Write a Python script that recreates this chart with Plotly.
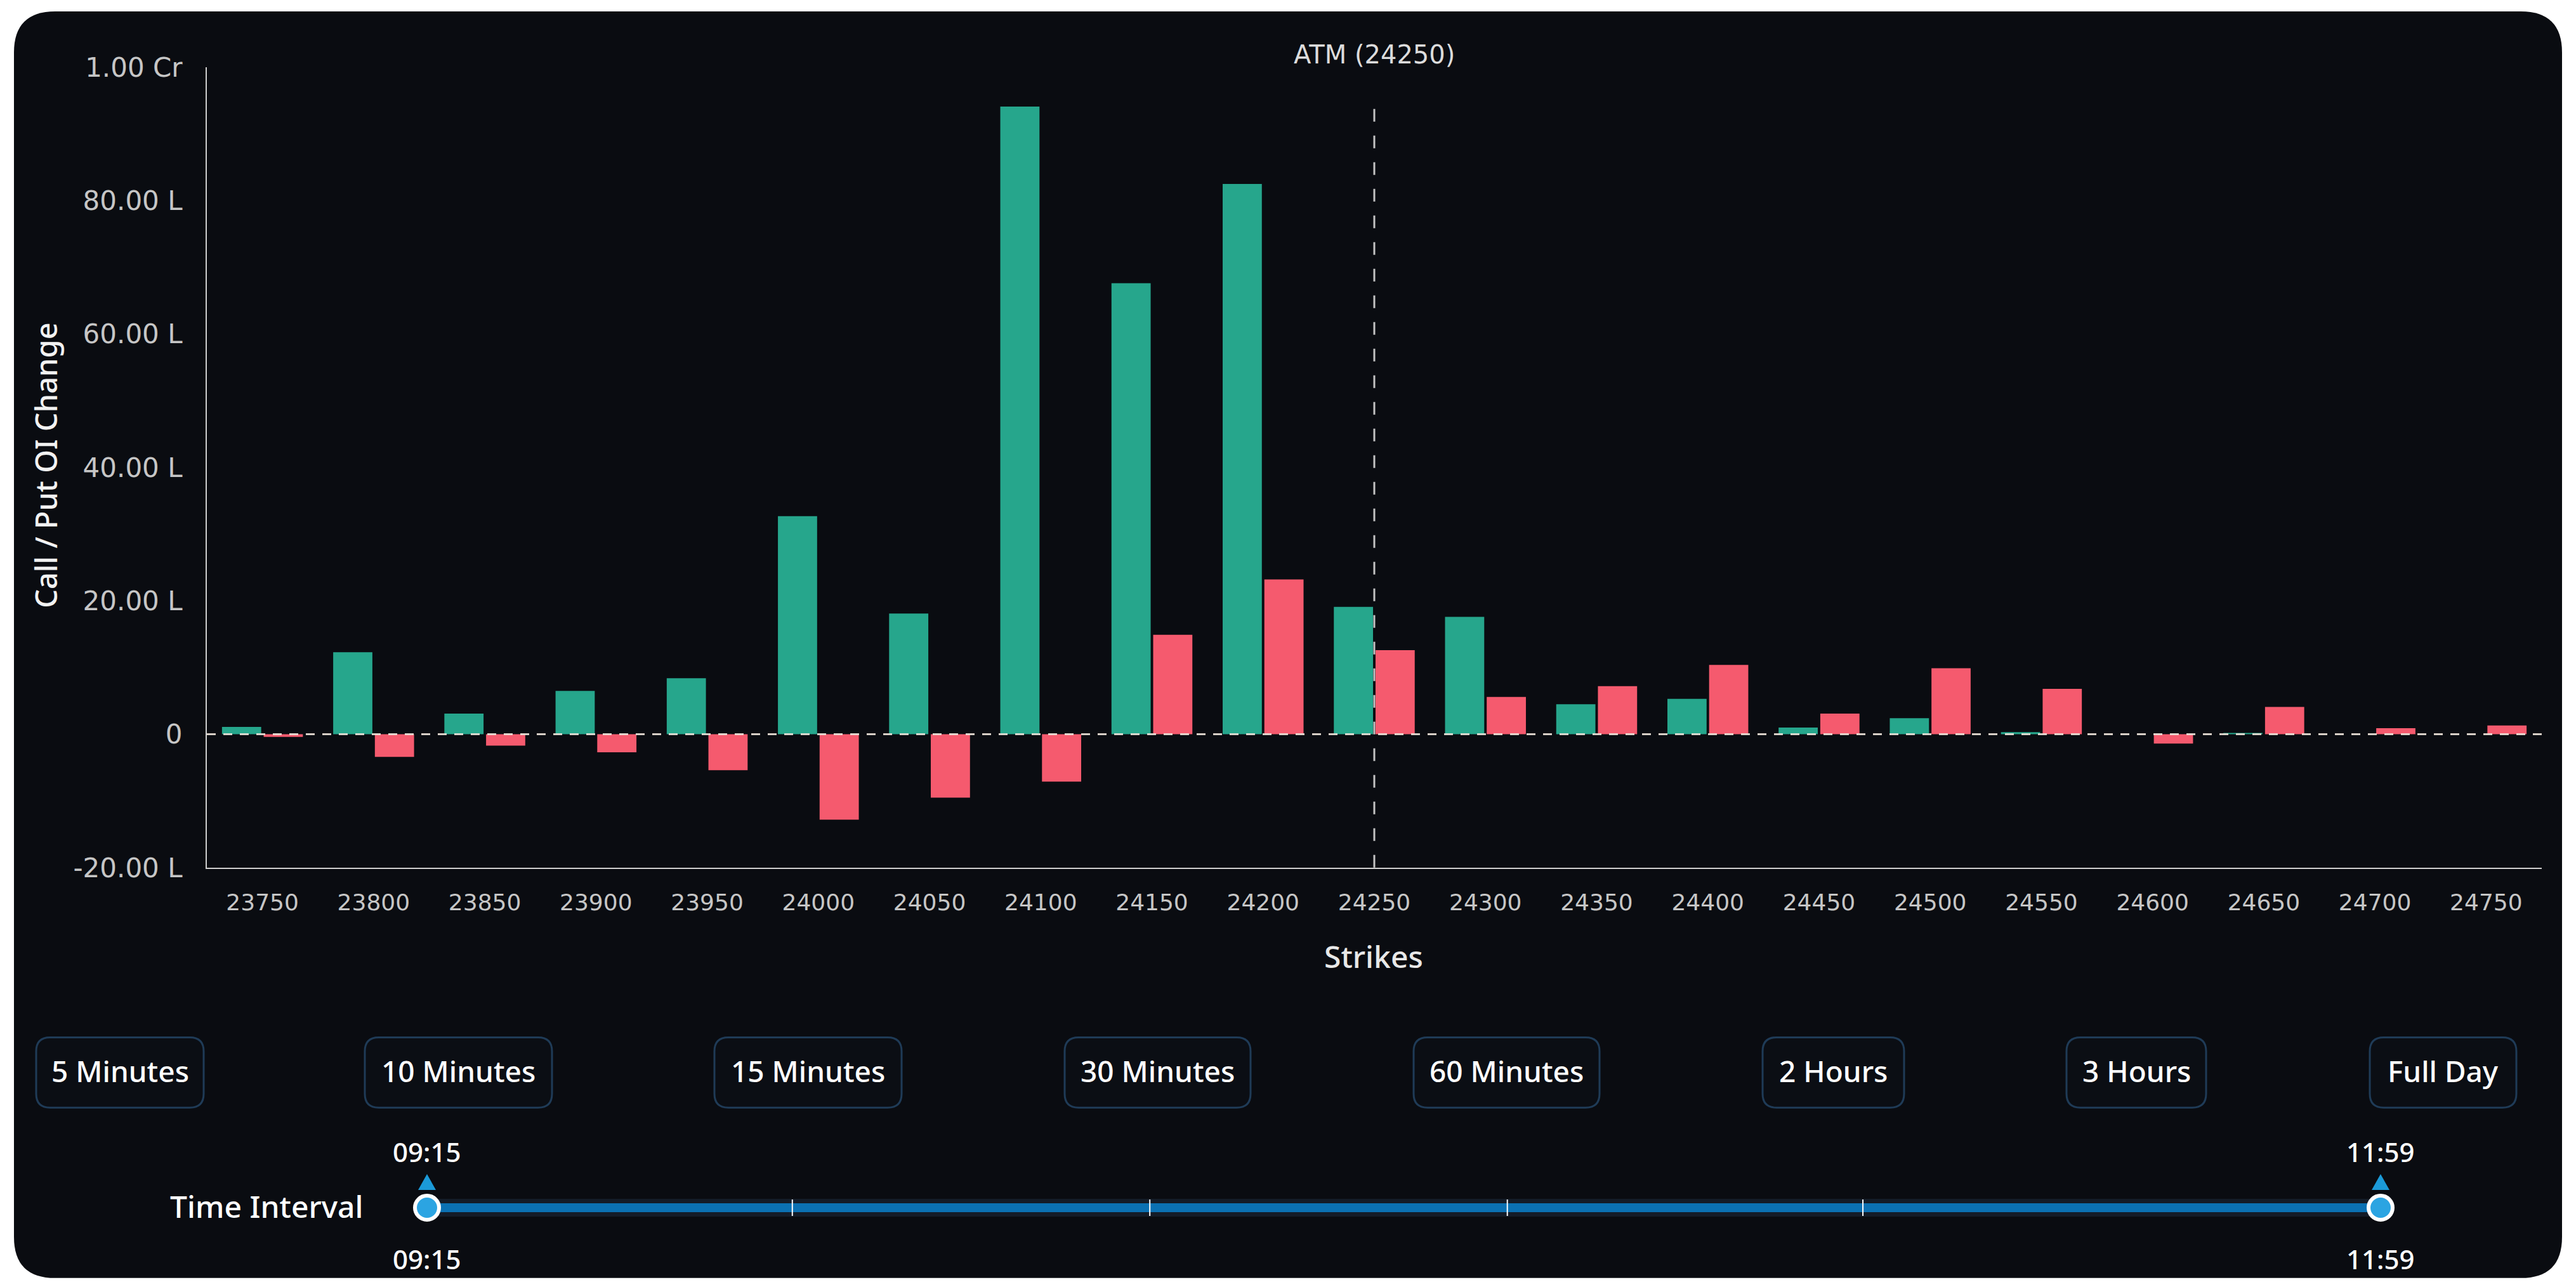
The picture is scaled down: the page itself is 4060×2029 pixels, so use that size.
import plotly.graph_objects as go

# ---------------- data ----------------
strikes = [23750, 23800, 23850, 23900, 23950, 24000, 24050, 24100, 24150, 24200, 24250,
           24300, 24350, 24400, 24450, 24500, 24550, 24600, 24650, 24700, 24750]
# OI change in lakhs (L); 100 L = 1 Cr
call_oi_change = [1.1, 12.3, 3.1, 6.5, 8.4, 32.7, 18.1, 94.1, 67.6, 82.5, 19.1,
                  17.6, 4.5, 5.3, 1.0, 2.4, 0.3, 0.0, 0.2, 0.0, 0.0]
put_oi_change = [-0.4, -3.4, -1.7, -2.7, -5.4, -12.8, -9.5, -7.1, 14.9, 23.2, 12.6,
                 5.6, 7.2, 10.4, 3.1, 9.9, 6.8, -1.4, 4.1, 0.9, 1.3]
atm_strike = 24250
y_tickvals = [-20, 0, 20, 40, 60, 80, 100]
y_ticktext = ["-20.00 L", "0", "20.00 L", "40.00 L", "60.00 L", "80.00 L", "1.00 Cr"]
interval_buttons = ["5 Minutes", "10 Minutes", "15 Minutes", "30 Minutes",
                    "60 Minutes", "2 Hours", "3 Hours", "Full Day"]
time_start = "09:15"
time_end = "11:59"

# ---------------- geometry helpers (screen pixels -> paper) ----------------
W, H = 4060, 2080
A, B = 0.978, 22.0   # observed vertical mapping of the photo: screen_y = A * fig_y + B
def fx(x): return x / W
def fy(y): return 1 - ((y - B) / A) / H

def rrect(x0, y0, x1, y1, r):
    p = [("M", x0 + r, y0), ("L", x1 - r, y0), ("Q", x1, y0, x1, y0 + r),
         ("L", x1, y1 - r), ("Q", x1, y1, x1 - r, y1), ("L", x0 + r, y1),
         ("Q", x0, y1, x0, y1 - r), ("L", x0, y0 + r), ("Q", x0, y0, x0 + r, y0)]
    s = ""
    for seg in p:
        cmd = seg[0]
        coords = seg[1:]
        parts = []
        for i in range(0, len(coords), 2):
            parts.append(f"{fx(coords[i]):.6f},{fy(coords[i+1]):.6f}")
        s += cmd + " " + " ".join(parts) + " "
    return s + "Z"

BG = "#0a0c11"
GREEN = "#26a68c"
RED = "#f55a6e"
FONT = "Noto Sans"
AXFONT = "DejaVu Sans"

fig = go.Figure()
fig.add_trace(go.Bar(x=strikes, y=call_oi_change, name="Call", marker_color=GREEN,
                     marker_line_width=0))
fig.add_trace(go.Bar(x=strikes, y=put_oi_change, name="Put", marker_color=RED,
                     marker_line_width=0))

shapes = []
annotations = []

# card background
shapes.append(dict(type="path", xref="paper", yref="paper", layer="below",
                   path=rrect(22, 16, 4038, 2016, 65), fillcolor=BG, line_width=0))

# zero dashed line
shapes.append(dict(type="line", xref="x domain", yref="y", x0=0, x1=1, y0=0, y1=0,
                   line=dict(color="rgba(238,230,220,0.9)", width=3, dash="14px,12px"),
                   layer="above"))
# ATM vertical dashed line
shapes.append(dict(type="line", xref="x", yref="paper", x0=atm_strike, x1=atm_strike,
                   y0=fy(1368), y1=fy(168),
                   line=dict(color="rgba(215,215,215,0.9)", width=3, dash="20px,22px"),
                   layer="above"))
annotations.append(dict(x=atm_strike, xref="x", y=fy(84), yref="paper", text="ATM (24250)",
                        showarrow=False, font=dict(family=AXFONT, size=40, color="#dcdcdc"),
                        xanchor="center", yanchor="middle"))

# axis titles
annotations.append(dict(x=fx(72), y=fy(733), xref="paper", yref="paper",
                        text="Call / Put OI Change", textangle=-90, showarrow=False,
                        font=dict(family=FONT, size=47, color="#f2f2f2", weight=500),
                        xanchor="center", yanchor="middle"))
annotations.append(dict(x=fx(2165), y=fy(1508), xref="paper", yref="paper",
                        text="Strikes", showarrow=False,
                        font=dict(family=FONT, size=48, color="#e8e8e8", weight=500),
                        xanchor="center", yanchor="middle"))

# interval buttons
btn_x = [(57, 321), (575, 870), (1126, 1421), (1678, 1971), (2228, 2521),
         (2778, 3001), (3257, 3477), (3735, 3966)]
for (x0, x1), label in zip(btn_x, interval_buttons):
    shapes.append(dict(type="path", xref="paper", yref="paper",
                       path=rrect(x0, 1636, x1, 1747, 22), fillcolor="#0b0e14",
                       line=dict(color="#1f3b57", width=3)))
    annotations.append(dict(x=fx((x0 + x1) / 2), y=fy(1689), xref="paper", yref="paper",
                            text=label, showarrow=False,
                            font=dict(family=FONT, size=46, color="#ffffff", weight=500),
                            xanchor="center", yanchor="middle"))

# time interval slider
tx0, tx1, ty = 673, 3752, 1905
annotations.append(dict(x=fx(420), y=fy(1902), xref="paper", yref="paper",
                        text="Time Interval", showarrow=False,
                        font=dict(family=FONT, size=48, color="#ffffff", weight=500),
                        xanchor="center", yanchor="middle"))
shapes.append(dict(type="rect", xref="paper", yref="paper", x0=fx(tx0), x1=fx(tx1),
                   y0=fy(ty + 14), y1=fy(ty - 14), fillcolor="#141c28", line_width=0))
shapes.append(dict(type="rect", xref="paper", yref="paper", x0=fx(tx0), x1=fx(tx1),
                   y0=fy(ty + 7), y1=fy(ty - 7), fillcolor="#0b71b3", line_width=0))
for frac in [0.187, 0.370, 0.553, 0.735]:
    xx = tx0 + frac * (tx1 - tx0)
    shapes.append(dict(type="line", xref="paper", yref="paper", x0=fx(xx), x1=fx(xx),
                       y0=fy(ty + 13), y1=fy(ty - 13), line=dict(color="#ffffff", width=2)))
for hx, lab in [(tx0, time_start), (tx1, time_end)]:
    shapes.append(dict(type="circle", xref="paper", yref="paper",
                       x0=fx(hx - 19), x1=fx(hx + 19), y0=fy(ty + 19), y1=fy(ty - 19),
                       fillcolor="#2ba4e2", line=dict(color="#ffffff", width=6)))
    shapes.append(dict(type="path", xref="paper", yref="paper",
                       path=f"M {fx(hx-14):.6f},{fy(1877):.6f} L {fx(hx+14):.6f},{fy(1877):.6f} L {fx(hx):.6f},{fy(1852):.6f} Z",
                       fillcolor="#1b9ad8", line_width=0))
    annotations.append(dict(x=fx(hx), y=fy(1816), xref="paper", yref="paper", text=lab,
                            showarrow=False, font=dict(family=FONT, size=42, color="#ffffff", weight=500),
                            xanchor="center", yanchor="middle"))
    annotations.append(dict(x=fx(hx), y=fy(1986), xref="paper", yref="paper", text=lab,
                            showarrow=False, font=dict(family=FONT, size=42, color="#ffffff", weight=500),
                            xanchor="center", yanchor="middle"))

fig.update_layout(
    width=W, height=H,
    margin=dict(l=0, r=0, t=0, b=0),
    paper_bgcolor="#ffffff",
    plot_bgcolor="rgba(0,0,0,0)",
    barmode="group", bargap=0.25, bargroupgap=0.06,
    showlegend=False,
    shapes=shapes, annotations=annotations,
    xaxis=dict(domain=[fx(326), fx(4006)], range=[23725, 24775],
               tickvals=strikes, ticktext=[str(s) for s in strikes],
               showgrid=False, zeroline=False, showline=True, linecolor="#cfcfcf", linewidth=2,
               ticks="outside", ticklen=22, tickcolor="rgba(0,0,0,0)",
               tickfont=dict(family=AXFONT, size=36, color="#c6c6c6")),
    yaxis=dict(domain=[fy(1368), fy(104)], range=[-20, 100],
               tickvals=y_tickvals, ticktext=y_ticktext,
               showgrid=False, zeroline=False, showline=True, linecolor="#cfcfcf", linewidth=2,
               ticks="outside", ticklen=28, tickcolor="rgba(0,0,0,0)",
               tickfont=dict(family=AXFONT, size=42, color="#c6c6c6")),
)

fig.write_html("out.html")
